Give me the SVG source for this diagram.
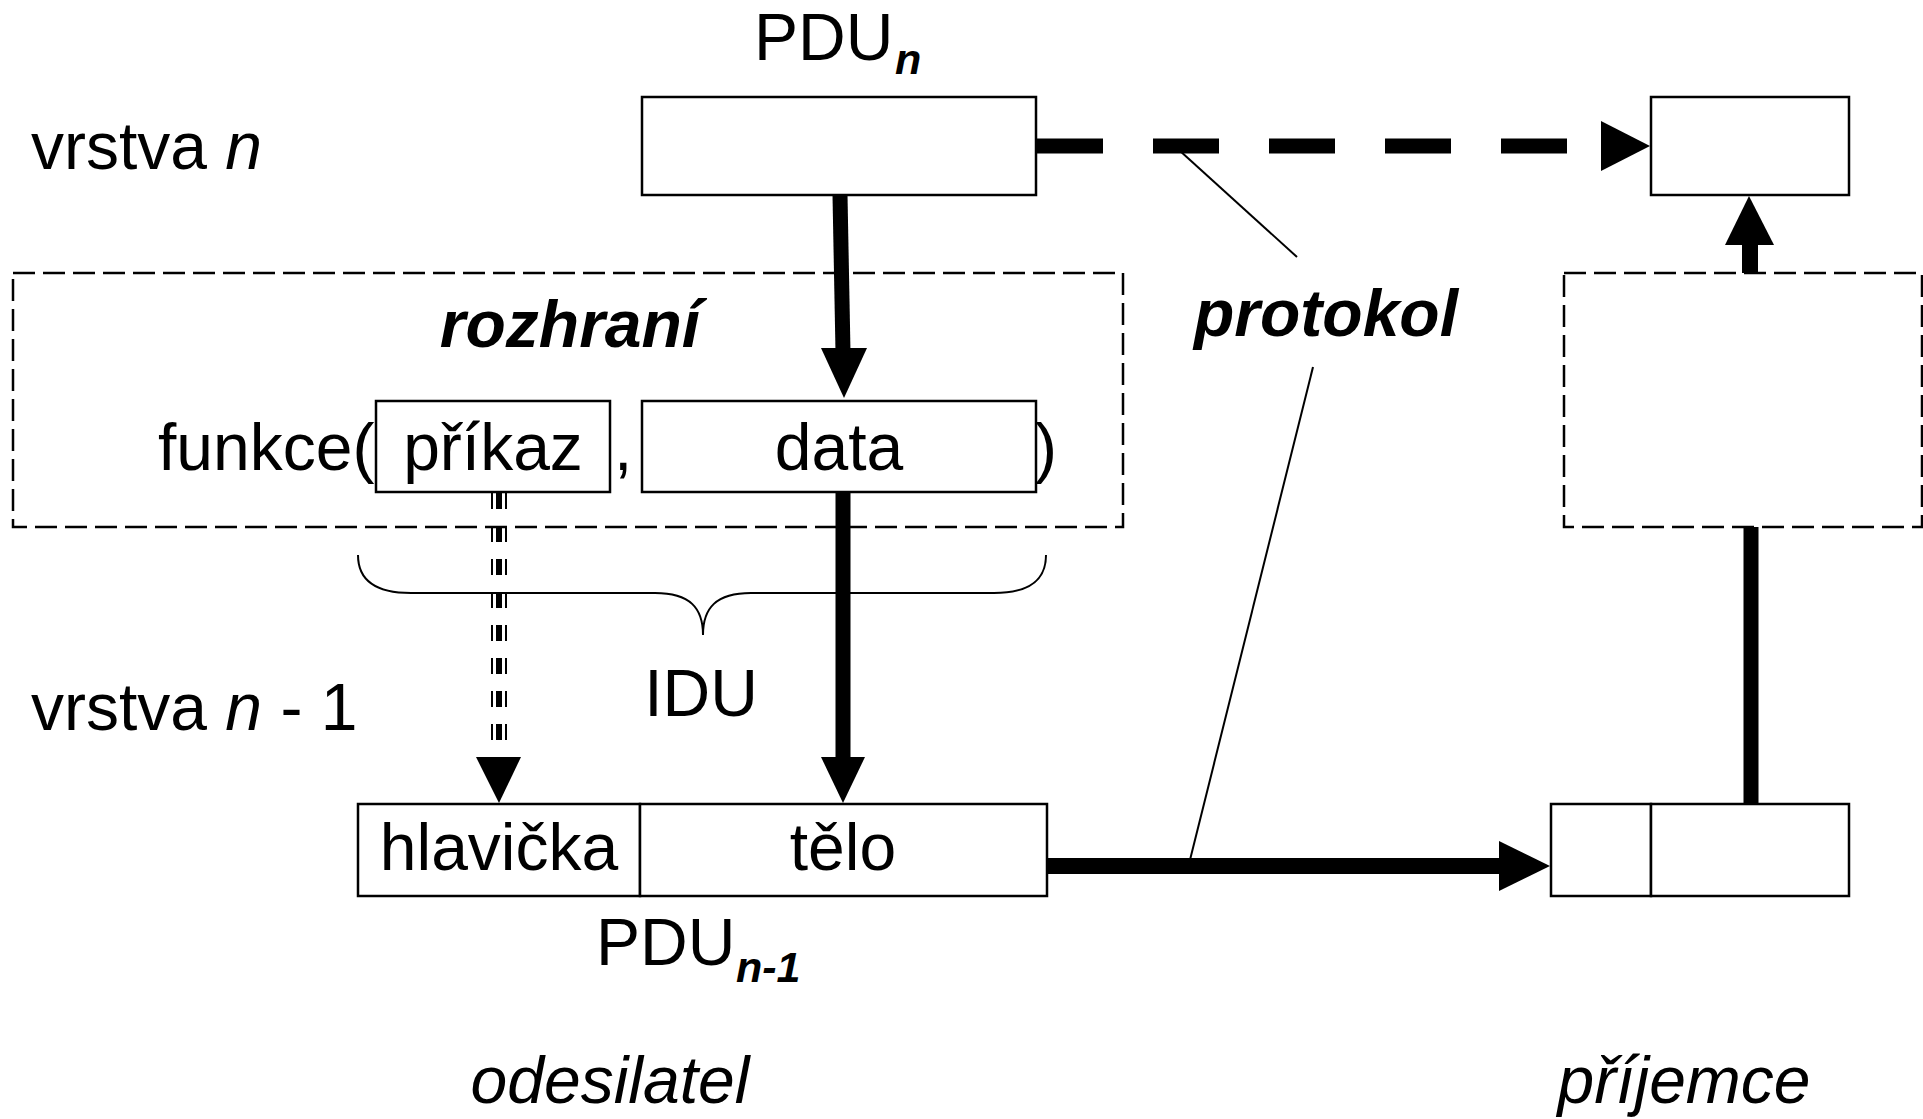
<svg xmlns="http://www.w3.org/2000/svg" width="1923" height="1119" viewBox="0 0 1923 1119">
<style>
text{font-family:"Liberation Sans",Arial,sans-serif;font-size:66px;fill:#000}
.bi{font-weight:bold;font-style:italic}
.it{font-style:italic}
.sub{font-size:43px;font-weight:bold;font-style:italic}
.box{fill:#fff;stroke:#000;stroke-width:2.5}
.dbox{fill:none;stroke:#000;stroke-width:2.5;stroke-dasharray:22 8}
.thick{stroke:#000;stroke-width:15;fill:none}
.thin{stroke:#000;stroke-width:2;fill:none}
.head{fill:#000}
</style>
<rect width="1923" height="1119" fill="#fff"/>

<g id="labels">
<text x="31" y="169">vrstva <tspan class="it">n</tspan></text>
<text x="31" y="730">vrstva <tspan class="it">n</tspan> - 1</text>
<text x="754" y="60">PDU</text><text class="sub" x="895" y="74">n</text>
<text x="596" y="965">PDU</text><text class="sub" x="736" y="982">n-1</text>
<text class="it" x="610" y="1103" text-anchor="middle">odesilatel</text>
<text class="it" x="1684" y="1103" text-anchor="middle">příjemce</text>
<text class="bi" x="1326" y="336" text-anchor="middle">protokol</text>
<text x="701" y="716" text-anchor="middle">IDU</text>
</g>

<g id="interface">
<rect class="dbox" x="13" y="273" width="1110" height="254"/>
<text class="bi" x="570" y="347" text-anchor="middle">rozhraní</text>
<text x="158" y="470">funkce(</text>
<text x="614" y="470">,</text>
<text x="1035" y="470">)</text>
</g>

<g id="receiver-interface">
<rect class="dbox" x="1564" y="273" width="358" height="254"/>
</g>

<g id="connectors">
<path class="thin" d="M358,555 C358,580 375,593 411,593 L655,593 C690,593 703,608 703,635 C703,608 716,593 751,593 L994,593 C1030,593 1046,580 1046,555"/>
<line class="thin" x1="1179" y1="150" x2="1297" y2="257"/>
<line class="thin" x1="1313" y1="367" x2="1190" y2="860"/>
<line class="thick" x1="840" y1="195" x2="843" y2="352"/>
<polygon class="head" points="821,348 867,348 844,398"/>
<line class="thick" x1="843" y1="492" x2="843" y2="760"/>
<polygon class="head" points="821,757 865,757 843,803"/>
<g stroke="#000" stroke-dasharray="16 17" fill="none">
<line x1="492" y1="493" x2="492" y2="758" stroke-width="2"/>
<line x1="499" y1="493" x2="499" y2="758" stroke-width="6"/>
<line x1="506" y1="493" x2="506" y2="758" stroke-width="2"/>
</g>
<polygon class="head" points="476,757 521,757 499,803"/>
<line x1="1037" y1="146" x2="1567" y2="146" stroke="#000" stroke-width="15" stroke-dasharray="66 50"/>
<polygon class="head" points="1601,121 1601,171 1650,146"/>
<line x1="1047" y1="866" x2="1502" y2="866" stroke="#000" stroke-width="16"/>
<polygon class="head" points="1499,841 1499,891 1550,866"/>
<line class="thick" x1="1751" y1="803" x2="1751" y2="527"/>
<line x1="1750" y1="273" x2="1750" y2="243" stroke="#000" stroke-width="16"/>
<polygon class="head" points="1725,245 1774,245 1749,196"/>
</g>

<g id="pdu-n">
<rect class="box" x="642" y="97" width="394" height="98"/>
</g>
<g id="pdu-n-receiver">
<rect class="box" x="1651" y="97" width="198" height="98"/>
</g>
<g id="prikaz">
<rect class="box" x="376" y="401" width="234" height="91"/>
<text x="493" y="470" text-anchor="middle">příkaz</text>
</g>
<g id="data">
<rect class="box" x="642" y="401" width="394" height="91"/>
<text x="839" y="470" text-anchor="middle">data</text>
</g>
<g id="hlavicka">
<rect class="box" x="358" y="804" width="282" height="92"/>
<text x="499" y="870" text-anchor="middle">hlavička</text>
</g>
<g id="telo">
<rect class="box" x="640" y="804" width="407" height="92"/>
<text x="843" y="870" text-anchor="middle">tělo</text>
</g>
<g id="receiver-pdu">
<rect class="box" x="1551" y="804" width="100" height="92"/>
<rect class="box" x="1651" y="804" width="198" height="92"/>
</g>
</svg>
